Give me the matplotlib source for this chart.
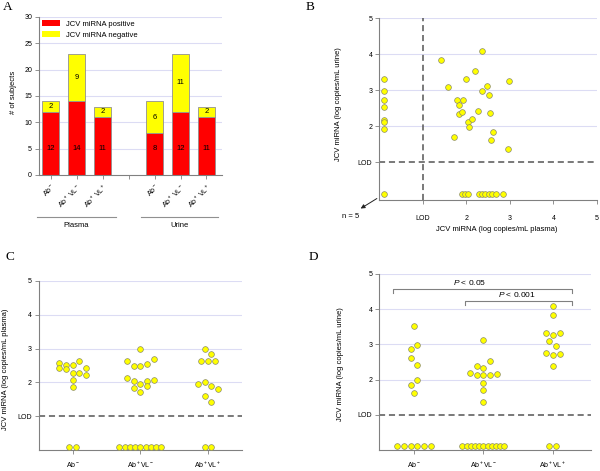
import numpy as np
import matplotlib
matplotlib.use('Agg')
import matplotlib.pyplot as plt
from matplotlib.patches import Patch
import matplotlib.transforms as mtransforms

plt.rcParams['font.family'] = ['Liberation Sans', 'DejaVu Sans']
plt.rcParams['mathtext.fontset'] = 'custom'
plt.rcParams['mathtext.rm'] = 'Liberation Sans'
plt.rcParams['mathtext.it'] = 'Liberation Sans:italic'
plt.rcParams['font.size'] = 5

# A: number of subjects per group
groups = ['Plasma', 'Urine']
bar_cats = ['Ab$^-$', 'Ab$^+$ VL$^-$', 'Ab$^+$ VL$^+$']
plasma_pos = [12, 14, 11]
plasma_neg = [2, 9, 2]
urine_pos = [8, 12, 11]
urine_neg = [6, 11, 2]

# B: plasma vs urine (log copies/mL)
b_plasma = [1.41, 1.58, 1.71, 1.79, 1.84, 1.83, 1.91, 1.93, 1.99, 2.03, 2.07, 2.13,
            2.21, 2.27, 2.35, 2.36, 2.48, 2.51, 2.54, 2.56, 2.62, 2.98, 2.96]
b_urine = [3.84, 3.10, 1.71, 2.73, 2.60, 2.34, 2.40, 2.74, 3.31, 2.12, 1.99, 2.20,
           3.52, 2.42, 2.98, 4.09, 3.13, 2.86, 2.38, 1.61, 1.84, 3.26, 1.37]
b_urine_only = [3.30, 2.98, 2.72, 2.52, 2.17, 2.12, 1.92]
b_plasma_only = [1.89, 1.97, 2.05, 2.28, 2.36, 2.44, 2.52, 2.60, 2.67, 2.84]
b_both_neg = 5

# C: plasma, D: urine (positives only; negatives counts from A)
dot_cats = ['Ab$^-$', 'Ab$^+$VL$^-$', 'Ab$^+$VL$^+$']
c_vals = [
    [2.56, 2.51, 2.51, 2.64, 2.41, 2.39, 2.43, 2.29, 2.28, 2.22, 2.08, 1.85],
    [2.98, 2.63, 2.49, 2.49, 2.54, 2.68, 2.14, 2.03, 1.96, 2.03, 2.08, 1.84, 1.71, 1.90],
    [3.00, 2.84, 2.64, 2.64, 2.64, 1.94, 2.00, 1.90, 1.80, 1.59, 1.41],
]
d_vals = [
    [3.51, 2.87, 2.98, 2.61, 2.42, 1.84, 1.99, 1.61],
    [3.13, 2.37, 2.33, 2.53, 2.19, 2.13, 2.12, 2.12, 2.17, 1.91, 1.70, 1.36],
    [4.10, 3.84, 3.31, 3.25, 3.31, 3.10, 2.96, 2.75, 2.70, 2.72, 2.39],
]

RED = '#ff0000'
YEL = '#ffff00'
EDGE = '#8c8c6a'
GRID = '#dcdcf4'
SPINE = '#808080'
DASH = '#555555'


def style_axes(ax):
    for s in ['top', 'right']:
        ax.spines[s].set_visible(False)
    for s in ['left', 'bottom']:
        ax.spines[s].set_color(SPINE)
        ax.spines[s].set_linewidth(0.8)
    ax.tick_params(length=3, width=0.6, color=SPINE, labelsize=5, pad=2)


def swarm(ax, x0, vals, step=6.7, row_h=7.2):
    # group points into rows (by pixel height), spread each row around x0
    tr = ax.transData
    pts = tr.transform([(x0, v) for v in vals])
    order = sorted(range(len(vals)), key=lambda i: -vals[i])
    rows, cur = [], [order[0]]
    for i in order[1:]:
        if pts[cur[0], 1] - pts[i, 1] <= row_h:
            cur.append(i)
        else:
            rows.append(cur)
            cur = [i]
    rows.append(cur)
    xs = np.zeros(len(vals))
    for r in rows:
        r = sorted(r)
        for k, i in enumerate(r):
            off = (k - (len(r) - 1) / 2) * step
            xs[i] = tr.inverted().transform((pts[i, 0] + off, pts[i, 1]))[0]
    return xs


def neg_row(ax, x0, n, y0=0.1, step=6.7, span=42):
    if n > 1:
        step = min(step, span / (n - 1))
    tr = ax.transData
    px, py = tr.transform((x0, y0))
    offs = (np.arange(n) - (n - 1) / 2) * step
    return [tr.inverted().transform((px + o, py))[0] for o in offs]


def dots(ax, x, y):
    ax.scatter(x, y, s=17, c=YEL, edgecolors=EDGE, linewidths=0.5, zorder=3, clip_on=False)


fig = plt.figure(figsize=(6, 4.71), dpi=100)

# ---- A ----
axA = fig.add_axes([0.065, 0.6285, 0.305, 0.3355])
style_axes(axA)
pos = np.array(plasma_pos + [0] + urine_pos)
neg = np.array(plasma_neg + [0] + urine_neg)
xa = np.arange(7)
keep = xa != 3
for a in [5, 10, 15, 20, 25, 30]:
    axA.axhline(a, color=GRID, lw=0.8, zorder=0)
axA.bar(xa[keep], pos[keep], 0.65, color=RED, edgecolor='#909090', lw=0.6, zorder=2)
axA.bar(xa[keep], neg[keep], 0.65, bottom=pos[keep], color=YEL, edgecolor='#909090', lw=0.6, zorder=2)
for x in xa[keep]:
    axA.text(x, 5, str(pos[x]), ha='center', va='center', fontsize=5.5, zorder=4)
    axA.text(x, pos[x] + neg[x] / 2, str(neg[x]), ha='center', va='center', fontsize=5.5, zorder=4)
axA.set_xlim(-0.46, 6.6)
axA.set_ylim(0, 30)
axA.set_yticks(range(0, 31, 5))
axA.set_xticks(xa)
axA.set_xticklabels(bar_cats + [''] + bar_cats, rotation=45, ha='right', rotation_mode='anchor')
axA.text(-0.142, 0.52, '# of subjects', transform=axA.transAxes, rotation=90,
         ha='center', va='center', fontsize=5.5)
axA.legend(handles=[Patch(facecolor=RED, edgecolor='none', label='JCV miRNA positive'),
                    Patch(facecolor=YEL, edgecolor='none', label='JCV miRNA negative')],
           loc='upper left', bbox_to_anchor=(0.0, 1.0), frameon=False, fontsize=5.5,
           handlelength=2.4, handleheight=0.8, handletextpad=0.8, labelspacing=0.45,
           borderpad=0.2, borderaxespad=0.2)
blend = mtransforms.blended_transform_factory(axA.transData, axA.transAxes)
for g, (x1, x2) in zip(groups, [(-0.54, 2.5), (3.46, 6.46)]):
    axA.plot([x1, x2], [-0.266, -0.266], color='#909090', lw=0.8, transform=blend, clip_on=False)
    axA.text((x1 + x2) / 2, -0.318, g, transform=blend, ha='center', va='center', fontsize=5.5)

# ---- B ----
axB = fig.add_axes([0.632, 0.5754, 0.363, 0.386])
style_axes(axB)
axB.set_xlim(0, 5)
axB.set_ylim(-0.05, 5)
for g in [2, 3, 4, 5]:
    axB.axhline(g, color=GRID, lw=0.8, zorder=0)
axB.axhline(1, color=DASH, lw=1.1, ls=(0, (4, 2.5)), zorder=1)
axB.axvline(1, color=DASH, lw=1.1, ls=(0, (4, 2.5)), zorder=1)
dots(axB, b_plasma, b_urine)
dots(axB, [0.1] * len(b_urine_only), b_urine_only)
dots(axB, b_plasma_only, [0.12] * len(b_plasma_only))
dots(axB, [0.1], [0.12])
axB.set_xticks([1, 2, 3, 4, 5])
axB.set_xticklabels(['LOD', '2', '3', '4', '5'])
axB.set_yticks([1, 2, 3, 4, 5])
axB.set_yticklabels(['LOD', '2', '3', '4', '5'])
axB.tick_params(axis='x', pad=8)
axB.annotate('', xy=(-0.096, -0.055), xytext=(0.0, 0.016), xycoords='axes fraction',
             textcoords='axes fraction',
             arrowprops=dict(arrowstyle='-|>', color='#222222', lw=0.7, mutation_scale=6))
axB.text(-0.133, -0.093, 'n = %d' % b_both_neg, transform=axB.transAxes,
         ha='center', va='center', fontsize=5.5)
axB.text(0.54, -0.165, 'JCV miRNA (log copies/mL plasma)', transform=axB.transAxes,
         ha='center', va='center', fontsize=5.5)
axB.text(-0.188, 0.527, 'JCV miRNA (log copies/mL urine)', transform=axB.transAxes,
         rotation=90, ha='center', va='center', fontsize=5.5)

# ---- C and D ----
axC = fig.add_axes([0.065, 0.0446, 0.338, 0.359])
axD = fig.add_axes([0.632, 0.0446, 0.353, 0.374])
for ax, vals, negs, xr, lab, lx, ly in [
        (axC, c_vals, plasma_neg, (-0.5, 2.5), 'JCV miRNA (log copies/mL plasma)', -0.167, 0.48),
        (axD, d_vals, urine_neg, (-0.5, 2.55), 'JCV miRNA (log copies/mL urine)', -0.184, 0.49)]:
    style_axes(ax)
    ax.set_xlim(*xr)
    ax.set_ylim(0, 5)
    for g in [2, 3, 4, 5]:
        ax.axhline(g, color=GRID, lw=0.8, zorder=0)
    ax.axhline(1, color=DASH, lw=1.1, ls=(0, (4, 2.5)), zorder=1)
    for i, v in enumerate(vals):
        dots(ax, swarm(ax, i, v), v)
        dots(ax, neg_row(ax, i, negs[i]), [0.1] * negs[i])
    ax.set_xticks(range(3))
    ax.set_xticklabels(dot_cats)
    ax.tick_params(axis='x', pad=4)
    ax.set_yticks([1, 2, 3, 4, 5])
    ax.set_yticklabels(['LOD', '2', '3', '4', '5'])
    ax.text(lx, ly, lab, transform=ax.transAxes, rotation=90, ha='center', va='center', fontsize=5.5)

# significance brackets in D
for x1, x2, yt, ty, tx, txt in [(-0.3, 2.28, 4.56, 4.74, 0.8, '$P$ < 0.05'),
                                (0.73, 2.28, 4.23, 4.40, 1.48, '$P$ < 0.001')]:
    axD.plot([x1, x1, x2, x2], [yt - 0.11, yt, yt, yt - 0.11], color='#808080', lw=0.8, clip_on=False)
    axD.text(tx, ty, txt, ha='center', va='center', fontsize=6)

for lbl, x, y in [('A', 0.012, 0.985), ('B', 0.517, 0.985), ('C', 0.017, 0.454), ('D', 0.522, 0.454)]:
    fig.text(x, y, lbl, family='Liberation Serif', fontsize=9.5, ha='center', va='center')

fig.savefig('out.png', dpi=100)
